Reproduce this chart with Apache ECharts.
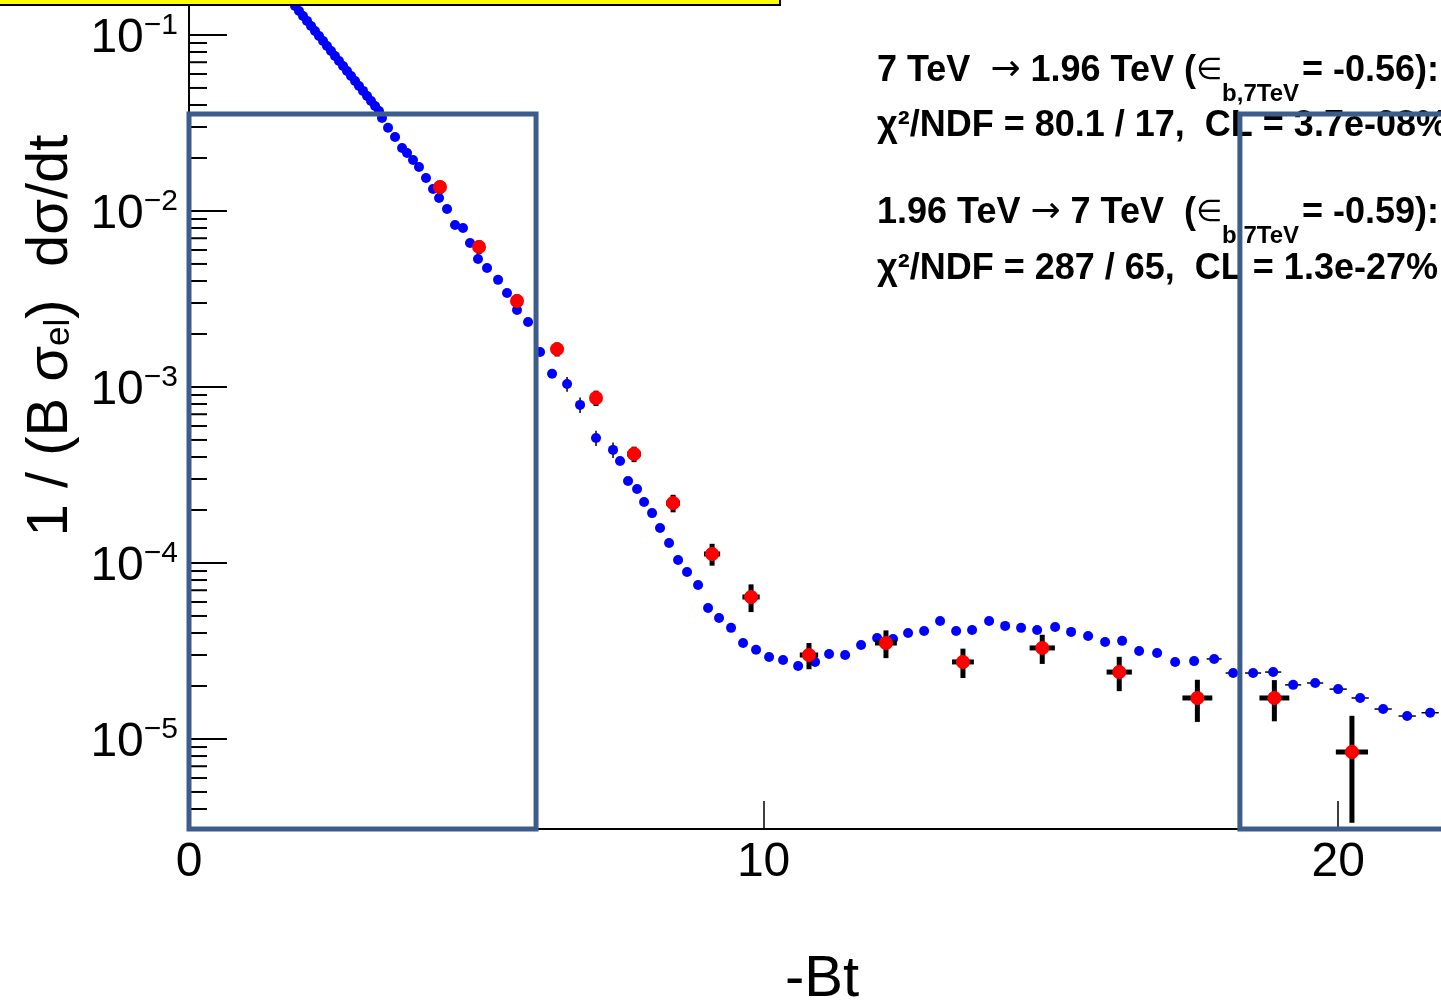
<!DOCTYPE html>
<html><head><meta charset="utf-8">
<script src="https://cdn.jsdelivr.net/npm/echarts@6/dist/echarts.min.js"></script>
<style>html,body{margin:0;padding:0;background:#fff;overflow:hidden}#c{width:1441px;height:1001px}</style>
</head><body><div id="c"></div>
<script>
// ---------- data ----------
const redX  = [4.369,5.048,5.709,6.406,7.084,7.746,8.425,9.104,9.782,10.79,12.13,13.47,14.85,16.19,17.55,18.89,20.24];
const redY  = [0.01368,6.25e-3,3.08e-3,1.64e-3,8.66e-4,4.16e-4,2.19e-4,1.125e-4,6.41e-5,3.0e-5,3.51e-5,2.74e-5,3.29e-5,2.40e-5,1.71e-5,1.71e-5,8.44e-6];
const redEx = [0.1,0.1,0.1,0.1,0.1,0.12,0.12,0.14,0.15,0.16,0.19,0.19,0.22,0.22,0.26,0.26,0.28];
const redEy = [1.2e-3,5.6e-4,2.8e-4,1.5e-4,8.7e-5,4.2e-5,2.5e-5,1.6e-5,1.15e-5,5.1e-6,6.3e-6,5.2e-6,6.2e-6,5.3e-6,4.6e-6,4.5e-6,5.1e-6];

const blueX = [1.775,1.845,1.915,1.984,2.054,2.124,2.193,2.263,2.333,2.402,2.472,2.541,2.611,2.681,2.750,2.820,2.890,2.959,3.029,3.099,3.168,3.238,3.307,
  3.359,3.464,3.586,3.708,3.795,3.899,4.003,4.125,4.247,4.352,4.491,4.630,4.769,4.891,5.030,5.187,5.379,5.535,5.709,5.901,
  6.110,6.319,6.580,6.806,7.084,7.380,7.502,7.641,7.798,7.920,8.059,8.198,8.355,8.512,8.668,8.860,9.034,9.225,9.434,9.643,9.869,
  10.096,10.339,10.601,10.896,11.140,11.419,11.697,11.976,12.254,12.515,12.794,13.072,13.351,13.629,13.925,14.204,14.482,14.761,
  15.074,15.352,15.648,15.944,16.240,16.536,16.849,17.163,17.493,17.842,18.172,18.520,18.869,19.217,19.600,20.000,20.383,20.783,21.201,21.601];
const blueY = [0.156,0.1462,0.1368,0.1282,0.1202,0.1125,0.1054,0.0986,0.0925,0.0866,0.0811,0.0760,0.0711,0.0667,0.0624,0.0585,0.0548,0.0513,0.0481,0.0450,0.0422,0.0395,0.0370,
  0.0338,0.0297,0.0263,0.0228,0.02135,0.0195,0.01778,0.0154,0.01334,0.01186,0.01027,0.00833,0.00800,0.00658,0.00534,0.00474,0.00406,0.00342,0.00274,0.00234,
  0.00158,0.00119,0.00104,7.91e-4,5.13e-4,4.39e-4,3.80e-4,2.92e-4,2.63e-4,2.22e-4,1.92e-4,1.58e-4,1.30e-4,1.04e-4,8.89e-5,7.50e-5,5.55e-5,4.87e-5,4.28e-5,3.51e-5,3.21e-5,
  2.92e-5,2.81e-5,2.60e-5,2.74e-5,3.04e-5,3.00e-5,3.42e-5,3.75e-5,3.70e-5,4.00e-5,4.11e-5,4.68e-5,4.11e-5,4.16e-5,4.68e-5,4.39e-5,4.28e-5,4.16e-5,
  4.33e-5,4.06e-5,3.85e-5,3.56e-5,3.61e-5,3.16e-5,3.08e-5,2.74e-5,2.77e-5,2.85e-5,2.37e-5,2.37e-5,2.40e-5,2.03e-5,2.08e-5,1.92e-5,1.71e-5,1.48e-5,1.35e-5,1.41e-5];
const blueEx = [0,0,0,0,0,0,0,0,0,0,0,0,0,0,0,0,0,0,0,0,0,0,0,
  0,0,0,0,0,0,0,0,0,0,0,0,0,0,0,0,0,0,0,0,
  0,0,0,0.08,0.08,0.08,0.08,0,0,0,0,0,0,0,0,0,0,0,0,0,0,
  0,0,0,0,0,0,0,0,0,0,0,0,0,0,0,0,0,0,
  0,0,0,0,0,0,0,0,0,0.13,0.13,0.14,0.14,0.14,0.14,0.15,0.15,0.15,0.15,0.15,0.15,0.15];
const blueEy = [0,0,0,0,0,0,0,0,0,0,0,0,0,0,0,0,0,0,0,0,0,0,0,
  0,0,0,0,0,0,0,0,0,0,0,0,0,0,0,0,0,0,0,0,
  0,0,1.0e-4,7.9e-5,5.1e-5,4.4e-5,0,0,0,0,0,0,0,0,0,0,0,0,0,0,
  0,0,0,0,0,0,0,0,0,0,0,0,0,0,0,0,0,0,
  0,0,0,0,0,0,0,0,0,0,0,0,0,0,0,0,0,0,0,0,0,0];

const xTickValues = [0, 10, 20];
const yDecades = [1e-6, 1e-5, 1e-4, 1e-3, 1e-2, 1e-1];
const X_MIN = 0, X_MAX = 21.79, Y_MIN = 3.08e-6, Y_MAX = 0.158;

// overlay boxes (annotation rectangles, in data coordinates)
const overlayBoxes = [
  {x0: 0, x1: 6.04, y0: Y_MIN, y1: 0.0356},
  {x0: 18.29, x1: 23.5, y0: Y_MIN, y1: 0.0356}
];

const FONT = '"Liberation Sans", Arial, Helvetica, sans-serif';

// y tick marks (major at decades, minor at 2..9)
const yTicks = [];
yDecades.forEach(d => {
  if (d >= Y_MIN && d <= Y_MAX) yTicks.push([X_MIN, d, 38]);
  for (let k = 2; k <= 9; k++) { const v = d * k; if (v >= Y_MIN && v <= Y_MAX) yTicks.push([X_MIN, v, 18]); }
});

const chart = echarts.init(document.getElementById('c'), null, {renderer: 'canvas'});

function errRender(width) {
  return function (params, api) {
    const x = api.value(0), y = api.value(1), ex = api.value(2), ey = api.value(3);
    const c = api.coord([x, y]);
    const children = [];
    if (ey > 0) {
      const hi = api.coord([x, y + ey]);
      const lo = api.coord([x, Math.max(y - ey, 1e-9)]);
      children.push({type: 'line', shape: {x1: c[0], y1: hi[1], x2: c[0], y2: lo[1]}, style: {stroke: '#000', lineWidth: width}});
    }
    if (ex > 0) {
      const l = api.coord([x - ex, y]), r = api.coord([x + ex, y]);
      children.push({type: 'line', shape: {x1: l[0], y1: c[1], x2: r[0], y2: c[1]}, style: {stroke: '#000', lineWidth: width}});
    }
    return {type: 'group', children};
  };
}

const option = {
  animation: false,
  backgroundColor: '#fff',
  grid: {left: 189, right: 0, top: 0, bottom: 172, containLabel: false, outerBoundsMode: 'none'},
  xAxis: {
    type: 'value', min: X_MIN, max: X_MAX,
    axisLine: {show: true, onZero: false, lineStyle: {color: '#000', width: 2}},
    axisTick: {show: true, inside: true, length: 28, customValues: xTickValues, lineStyle: {color: '#000', width: 1.5}},
    axisLabel: {customValues: xTickValues, fontSize: 48, fontFamily: FONT, color: '#000', margin: 10},
    splitLine: {show: false},
    name: '-Bt', nameLocation: 'middle', nameGap: 122,
    nameTextStyle: {fontSize: 58, fontFamily: FONT, color: '#000', padding: [0, 0, 0, 14]}
  },
  yAxis: {
    type: 'log', logBase: 10, min: Y_MIN, max: Y_MAX,
    axisLine: {show: true, onZero: false, lineStyle: {color: '#000', width: 2}},
    axisTick: {show: false},
    minorTick: {show: false},
    splitLine: {show: false},
    axisLabel: {
      showMinLabel: true, showMaxLabel: true, margin: 11,
      formatter: function (v) {
        const lg = Math.log10(v), e = Math.round(lg);
        if (Math.abs(lg - e) > 0.01) return '';
        return '{b|10}{s|\u2212' + Math.abs(e) + '}';
      },
      rich: {
        b: {fontSize: 48, fontFamily: FONT, color: '#000', lineHeight: 56, verticalAlign: 'bottom'},
        s: {fontSize: 30, fontFamily: FONT, color: '#000', lineHeight: 56, verticalAlign: 'bottom', padding: [0, 0, 22, 0]}
      }
    },
    name: '{a|1 / (B \u03C3}{e|el}{a|)  d\u03C3/dt}', nameLocation: 'middle', nameGap: 106, nameRotate: 90,
    nameTextStyle: {
      padding: [0, 0, 0, 158],
      rich: {
        a: {fontSize: 58, fontFamily: FONT, color: '#000', lineHeight: 60, verticalAlign: 'top'},
        e: {fontSize: 35, fontFamily: FONT, color: '#000', lineHeight: 60, verticalAlign: 'top', padding: [20, 0, 0, 0]}
      }
    }
  },
  series: [
    {
      type: 'custom', name: 'yticks', coordinateSystem: 'cartesian2d', silent: true, z: 1, clip: false,
      encode: {x: 0, y: 1},
      data: yTicks,
      renderItem: function (params, api) {
        const p = api.coord([api.value(0), api.value(1)]);
        return {type: 'line', shape: {x1: p[0], y1: p[1], x2: p[0] + api.value(2), y2: p[1]}, style: {stroke: '#000', lineWidth: 2}};
      }
    },
    {
      type: 'custom', name: 'blueErr', coordinateSystem: 'cartesian2d', silent: true, z: 2,
      encode: {x: 0, y: 1},
      data: blueX.map((x, i) => [x, blueY[i], blueEx[i], blueEy[i]]),
      renderItem: errRender(1.5)
    },
    {
      type: 'scatter', name: '1.96 TeV', z: 3, symbol: 'circle', symbolSize: 10,
      itemStyle: {color: '#0000ff', opacity: 1},
      data: blueX.map((x, i) => [x, blueY[i]])
    },
    {
      type: 'custom', name: 'redErr', coordinateSystem: 'cartesian2d', silent: true, z: 4,
      encode: {x: 0, y: 1},
      data: redX.map((x, i) => [x, redY[i], redEx[i], redEy[i]]),
      renderItem: errRender(5)
    },
    {
      type: 'scatter', name: '7 TeV', z: 5, symbol: 'circle', symbolSize: 14,
      itemStyle: {color: '#ff0000', opacity: 1},
      data: redX.map((x, i) => [x, redY[i]])
    }
  ]
};
chart.setOption(option);

// ---------- overlays ----------
const g = [];
overlayBoxes.forEach((b, i) => {
  const p0 = chart.convertToPixel({gridIndex: 0}, [b.x0, b.y1]);
  const p1 = chart.convertToPixel({gridIndex: 0}, [b.x1, b.y0]);
  g.push({type: 'rect', id: 'box' + i, z: 100, silent: true,
    shape: {x: p0[0], y: p0[1], width: p1[0] - p0[0], height: p1[1] - p0[1]},
    style: {fill: 'none', stroke: '#3c5d8b', lineWidth: 5}});
});
g.push({type: 'rect', id: 'yellow', z: 100, silent: true,
  shape: {x: -5, y: -10, width: 785, height: 15},
  style: {fill: '#ffff00', stroke: '#000', lineWidth: 2}});

const ctx = document.createElement('canvas').getContext('2d');
const FONTS = {
  m: 'bold 36px ' + FONT,
  s: 'bold 24px ' + FONT,
  y: '36px "DejaVu Sans", ' + FONT,
  e: '30px "DejaVu Sans", ' + FONT
};
function tw(t, f) { ctx.font = f; return ctx.measureText(t).width; }
const annot = [
  {y: 71, sy: 94, parts: [['m', '7 TeV  '], ['y', '\u2192'], ['m', ' 1.96 TeV ('], ['e', '\u2208'], ['s', 'b,7TeV'], ['m', '= -0.56):']]},
  {y: 126, parts: [['m', '\u03C7\u00B2/NDF = 80.1 / 17,  CL = 3.7e-08%']]},
  {y: 213, sy: 236, parts: [['m', '1.96 TeV '], ['y', '\u2192'], ['m', ' 7 TeV  ('], ['e', '\u2208'], ['s', 'b,7TeV'], ['m', '= -0.59):']]},
  {y: 269, parts: [['m', '\u03C7\u00B2/NDF = 287 / 65,  CL = 1.3e-27%']]}
];
annot.forEach(ln => {
  let x = 877;
  ln.parts.forEach(p => {
    const f = FONTS[p[0]];
    g.push({type: 'text', z: 50, silent: true, x: x, y: p[0] === 's' ? ln.sy : ln.y,
      style: {text: p[1], font: f, fill: '#000', align: 'left', verticalAlign: 'middle', textAlign: 'left', textVerticalAlign: 'middle'}});
    x += tw(p[1], f) + (p[0] === 's' ? 3 : 0);
  });
});
chart.setOption({graphic: g});
</script>
</body></html>
